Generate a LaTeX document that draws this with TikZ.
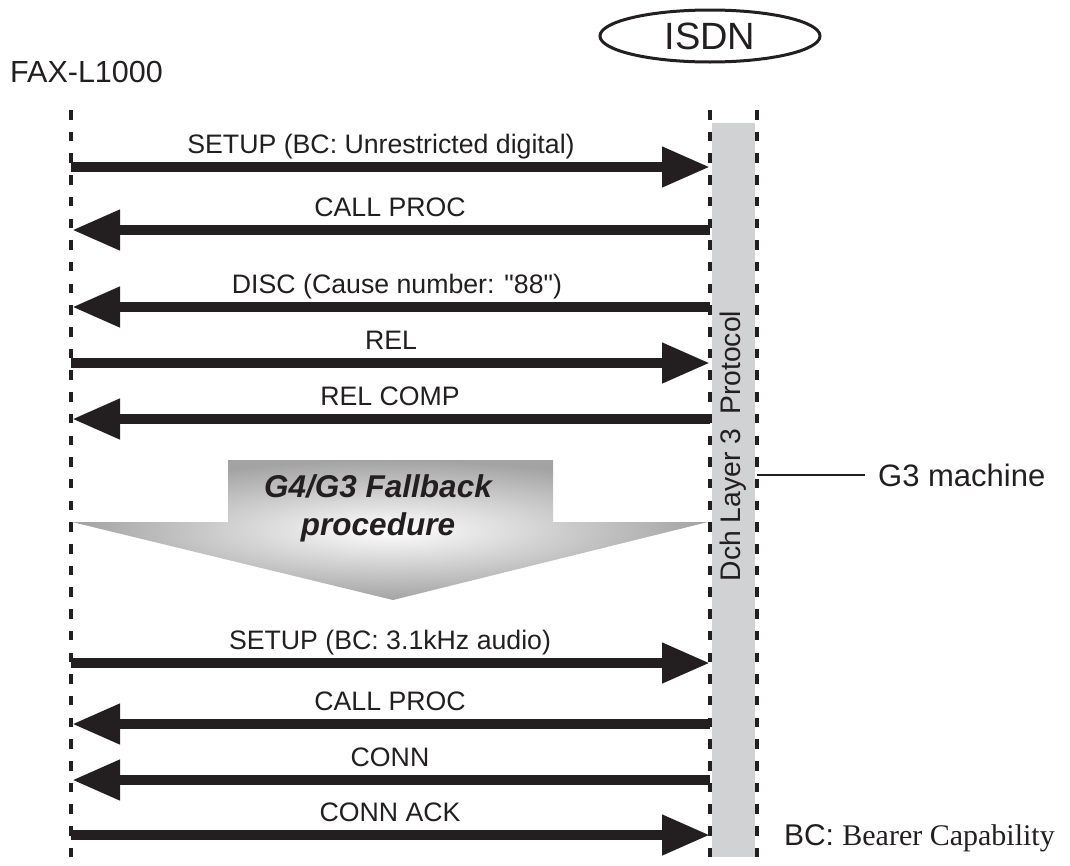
\documentclass[tikz,border=0pt]{standalone}
\usepackage{fontspec}
\setmainfont{Liberation Sans}
\newfontfamily\timesf{Liberation Serif}
\usetikzlibrary{arrows.meta,shapes.geometric}
\definecolor{barg}{RGB}{209,210,212}
\definecolor{ink}{RGB}{35,31,32}
\begin{document}
\begin{tikzpicture}[x=1pt,y=-1pt,
  lifeline/.style={ink, line width=4.5pt, dash pattern=on 9.5pt off 12.2pt},
  msg/.style={ink, line width=10.5pt, -{Triangle[length=48pt,width=38pt]}},
  lbl/.style={font=\fontsize{26.7}{30}\selectfont, anchor=base, inner sep=0pt, text=ink},
  big/.style={inner sep=0pt, text=ink}]
\useasboundingbox (0,0) rectangle (1070,865);
% protocol bar
\node (bar) [fill=barg, minimum width=43pt, minimum height=734pt, inner sep=0pt] at (733.5,490) {};
\node (dch) [big, rotate=90, font=\fontsize{28.3}{30}\selectfont] at (733,446) {Dch Layer 3\hspace{14pt}Protocol};
% lifelines
\coordinate (L0) at (71,110); \coordinate (L1) at (71,865);
\coordinate (R0) at (710,110); \coordinate (R1) at (710,865);
\coordinate (S0) at (757,110); \coordinate (S1) at (757,865);
\draw[lifeline] (L0) -- (L1);
\draw[lifeline] (R0) -- (R1);
\draw[lifeline] (S0) -- (S1);
% headers
\node (isdn) [draw=ink, ellipse, line width=3pt, minimum width=220pt, minimum height=52pt, inner sep=0pt, text=ink, font=\fontsize{38}{40}\selectfont] at (710,36) {ISDN};
\node (fax) [big, anchor=base west, font=\fontsize{30.5}{32}\selectfont] at (10,82) {FAX-L1000};
% messages
\foreach \n/\y in {1/167,2/230,3/307,4/363,5/419,6/663,7/724,8/780,9/835}{
  \coordinate (m\n l) at (72,\y);
  \coordinate (m\n r) at (710,\y);
  \coordinate (m\n s) at (71,\y);
}
\draw[msg] (m1s) -- (m1r);
\draw[msg] (m2r) -- (m2l);
\draw[msg] (m3r) -- (m3l);
\draw[msg] (m4s) -- (m4r);
\draw[msg] (m5r) -- (m5l);
\draw[msg] (m6s) -- (m6r);
\draw[msg] (m7r) -- (m7l);
\draw[msg] (m8r) -- (m8l);
\draw[msg] (m9s) -- (m9r);
\node (t1) [lbl] at (381,153) {SETUP (BC: Unrestricted digital)};
\node (t2) [lbl] at (390,216) {CALL PROC};
\node (t3) [lbl] at (397,293) {\addfontfeature{Ligatures=TeXOff}DISC (Cause number: "88")};
\node (t4) [lbl] at (391,349) {REL};
\node (t5) [lbl] at (390,405) {REL COMP};
\node (t6) [lbl] at (390,649) {SETUP (BC: 3.1kHz audio)};
\node (t7) [lbl] at (390,710) {CALL PROC};
\node (t8) [lbl] at (390,766) {CONN};
\node (t9) [lbl] at (390,821) {CONN ACK};
% fallback arrow
\path[shading=radial, inner color=white, outer color=gray!72]
  (228,460) -- (553,460) -- (553,522) -- (708,522) -- (393,600) -- (72,522) -- (228,522) -- cycle;
\node (fb) [big, align=center, font=\bfseries\itshape\fontsize{31.5}{38}\selectfont] at (378,508) {G4/G3 Fallback\\procedure};
% G3 machine
\coordinate (g3a) at (757,475);
\node (g3) [big, anchor=west, font=\fontsize{31}{33}\selectfont] at (878,475) {G3 machine};
\draw[ink, line width=2pt] (g3a) -- ([xshift=-13pt]g3.west);
% legend
\node (bc) [big, anchor=base east, font=\fontsize{30}{32}\selectfont] at (1055,845) {BC: {\timesf Bearer Capability}};
\end{tikzpicture}
\end{document}
